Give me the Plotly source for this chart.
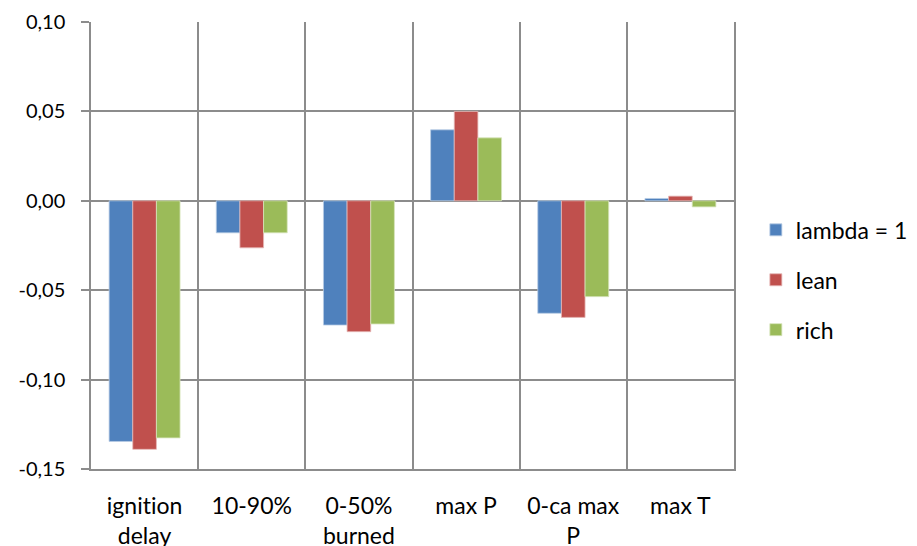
import plotly.graph_objects as go

categories = ["ignition<br>delay", "10-90%", "0-50%<br>burned", "max P", "0-ca max<br>P", "max T"]
lambda1 = [-0.1346, -0.0179, -0.0695, 0.0397, -0.0629, 0.0013]
lean = [-0.1390, -0.0263, -0.0732, 0.0500, -0.0652, 0.0026]
rich = [-0.1326, -0.0179, -0.0689, 0.0352, -0.0536, -0.0034]
series_names = ["lambda = 1", "lean", "rich"]
colors = ["#4F81BD", "#C0504D", "#9BBB59"]
line_colors = ["#B9CDE5", "#E6B9B8", "#D7E4BD"]
y_ticks = [0.10, 0.05, 0.00, -0.05, -0.10, -0.15]
y_tick_text = ["0,10", "0,05", "0,00", "-0,05", "-0,10", "-0,15"]

font_family = "Lato, 'Open Sans', sans-serif"
grid = "#8C8C8C"

fig = go.Figure()
for i, (name, vals) in enumerate(zip(series_names, [lambda1, lean, rich])):
    fig.add_trace(go.Bar(
        x=categories, y=vals, name=name,
        marker=dict(color=colors[i], line=dict(color=line_colors[i], width=0.8)),
        legendgroup=name,
    ))

# tick labels shown without font ligatures (Lato joins "ti")
tick_text = ["<span style='font-variant-ligatures:none'>" + c.replace("<br>", "</span><br><span style='font-variant-ligatures:none'>") + "</span>" for c in categories]

# margins compensate for the page body's 8px offset
fig.update_layout(
    width=917, height=546,
    margin=dict(l=83, r=188, t=14, b=85),
    paper_bgcolor="white", plot_bgcolor="white",
    barmode="group", bargap=0.338, bargroupgap=0,
    font=dict(family=font_family, size=20, color="#000000"),
    showlegend=True,
    legend=dict(x=1.034, y=0.423, xanchor="left", yanchor="middle",
                font=dict(size=23, family=font_family),
                tracegroupgap=17, bgcolor="rgba(0,0,0,0)"),
)
fig.update_xaxes(
    type="category", tickson="boundaries", showgrid=True,
    tickmode="array", tickvals=categories, ticktext=tick_text,
    gridcolor=grid, gridwidth=1.5,
    showline=True, linecolor=grid, linewidth=1.5,
    ticks="", ticklabelstandoff=16,
    tickfont=dict(size=23, family=font_family),
    zeroline=False, automargin=False,
)
fig.update_yaxes(
    range=[-0.15, 0.10], tickvals=y_ticks, ticktext=y_tick_text,
    showgrid=True, gridcolor=grid, gridwidth=1.5,
    zeroline=False, showline=True, mirror=True, linecolor=grid, linewidth=1.5,
    ticks="outside", ticklen=8, tickcolor=grid, tickwidth=1.5,
    ticklabelstandoff=12,
    tickfont=dict(size=20, family=font_family),
    automargin=False,
)

fig.write_html("out.html")
